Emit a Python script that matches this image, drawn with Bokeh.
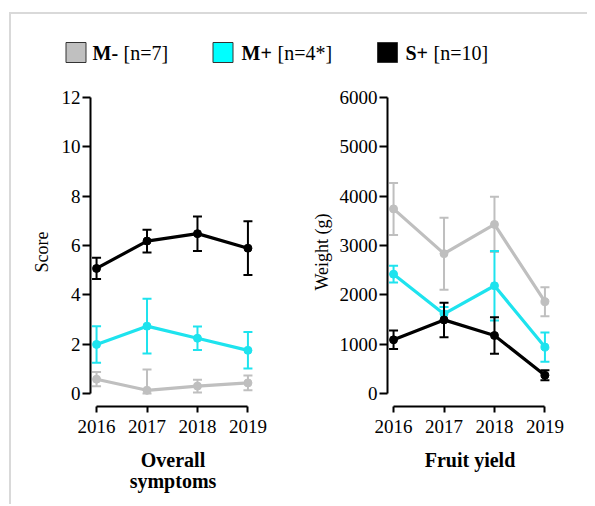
from bokeh.plotting import figure
from bokeh.models import Range1d, FixedTicker
from bokeh.layouts import column, row
from bokeh.embed import file_html
from bokeh.resources import INLINE
from bokeh.core.properties import value

# ---------------- data ----------------
years = [2016, 2017, 2018, 2019]
group_names = ["M-", "M+", "S+"]
group_sizes = ["[n=7]", "[n=4*]", "[n=10]"]
group_colors = ["#bfbfbf", "#1ee3ee", "#000000"]
legend_fill = ["#c0c0c0", "#00ffff", "#000000"]

score_m_minus = [0.58, 0.13, 0.30, 0.43]
score_m_minus_err = [0.29, 0.84, 0.26, 0.30]
score_m_plus = [1.99, 2.73, 2.24, 1.75]
score_m_plus_err = [0.74, 1.11, 0.48, 0.74]
score_s_plus = [5.07, 6.18, 6.48, 5.89]
score_s_plus_err = [0.43, 0.46, 0.70, 1.09]

weight_m_minus = [3742, 2835, 3427, 1861]
weight_m_minus_err = [527, 730, 560, 295]
weight_m_plus = [2419, 1613, 2184, 941]
weight_m_plus_err = [168, 140, 705, 296]
weight_s_plus = [1088, 1492, 1176, 370]
weight_s_plus_err = [188, 350, 370, 100]

score_ticks = [0, 2, 4, 6, 8, 10, 12]
weight_ticks = [0, 1000, 2000, 3000, 4000, 5000, 6000]

FONT = "Liberation Serif"
PANEL_H = 417


def make_panel(width, border_left, y_end, y_ticks, y_label, title, series):
    y_start = -y_end * 13.0 / 296.0
    p = figure(width=width, height=PANEL_H,
               x_range=Range1d(2015.88, 2019.15),
               y_range=Range1d(y_start, y_end),
               output_backend="svg", toolbar_location=None,
               min_border_left=border_left, min_border_right=width - border_left - 165,
               min_border_top=10, min_border_bottom=PANEL_H - 10 - 309,
               x_axis_location="below", y_axis_location="left")
    p.outline_line_color = None
    p.grid.visible = False
    p.background_fill_color = "white"
    p.border_fill_color = "white"

    for ax in (p.xaxis[0], p.yaxis[0]):
        ax.axis_line_width = 2
        ax.major_tick_line_width = 2
        ax.major_tick_in = 0
        ax.minor_tick_line_color = None
        ax.major_label_text_font = FONT
        ax.major_label_text_font_size = "19px"
        ax.major_label_text_color = "black"
        ax.axis_label_text_font = FONT
        ax.axis_label_text_color = "black"

    xa = p.xaxis[0]
    xa.ticker = FixedTicker(ticks=years)
    xa.bounds = (years[0], years[-1])
    xa.major_tick_out = 6
    xa.major_label_standoff = 7
    xa.axis_label = title
    xa.axis_label_text_font_style = "bold"
    xa.axis_label_text_font_size = "20px"
    xa.axis_label_text_line_height = 0.98
    xa.axis_label_standoff = 13

    ya = p.yaxis[0]
    ya.ticker = FixedTicker(ticks=y_ticks)
    ya.bounds = (y_ticks[0], y_ticks[-1])
    ya.major_tick_out = 8
    ya.major_label_standoff = 2
    ya.major_label_orientation = "horizontal"
    ya.axis_label = y_label
    ya.axis_label_text_font_style = "normal"
    ya.axis_label_text_font_size = "18px"
    ya.axis_label_standoff = 4

    for means, errs, color in series:
        lower = [max(m - e, 0) for m, e in zip(means, errs)]
        upper = [m + e for m, e in zip(means, errs)]
        p.segment(x0=years, y0=lower, x1=years, y1=upper, line_color=color, line_width=2)
        p.scatter(x=years, y=upper, marker="dash", size=9, line_color=color, line_width=2)
        p.scatter(x=years, y=lower, marker="dash", size=9, line_color=color, line_width=2)
        p.line(x=years, y=means, line_color=color, line_width=3.2)
        p.scatter(x=years, y=means, marker="circle", size=8, fill_color=color, line_color=color)
    return p


left = make_panel(279, 79, 12, score_ticks, "Score", "Overall\nsymptoms", [
    (score_m_minus, score_m_minus_err, group_colors[0]),
    (score_m_plus, score_m_plus_err, group_colors[1]),
    (score_s_plus, score_s_plus_err, group_colors[2]),
])
left.yaxis[0].axis_label_standoff = 7

right = make_panel(297, 97, 6000, weight_ticks, "Weight (g)", "Fruit yield", [
    (weight_m_minus, weight_m_minus_err, group_colors[0]),
    (weight_m_plus, weight_m_plus_err, group_colors[1]),
    (weight_s_plus, weight_s_plus_err, group_colors[2]),
])
right.yaxis[0].axis_label_standoff = 5

# ---------------- legend strip ----------------
LEG_H = 73
leg = figure(width=576, height=LEG_H, x_range=Range1d(0, 576), y_range=Range1d(LEG_H, 0),
             output_backend="svg", toolbar_location=None,
             x_axis_type=None, y_axis_type=None, min_border=0)
leg.outline_line_color = None
leg.grid.visible = False

sq_x = [64.5, 211.5, 376]
txt_x = [81, 230, 394]
bold_w = [26, 31, 23]
row_y = 38
leg.rect(x=sq_x, y=[row_y] * 3, width=20, height=20, width_units="screen", height_units="screen",
         fill_color=legend_fill, line_color="#333333", line_width=1)
leg.text(x=txt_x, y=[row_y] * 3, text=group_names, text_font=value(FONT), text_font_size="20px",
         text_font_style="bold", text_baseline="middle", text_align="left", text_color="black")
leg.text(x=[a + b + 5 for a, b in zip(txt_x, bold_w)], y=[row_y] * 3, text=group_sizes,
         text_font=value(FONT), text_font_size="20px", text_baseline="middle",
         text_align="left", text_color="black")

layout = column(leg, row(left, right),
                styles={"border-left": "2px solid #d9d9d9", "border-top": "2px solid #d9d9d9",
                        "margin-top": "12px", "margin-left": "9px"})

open("out.html", "w").write(file_html(layout, INLINE))
